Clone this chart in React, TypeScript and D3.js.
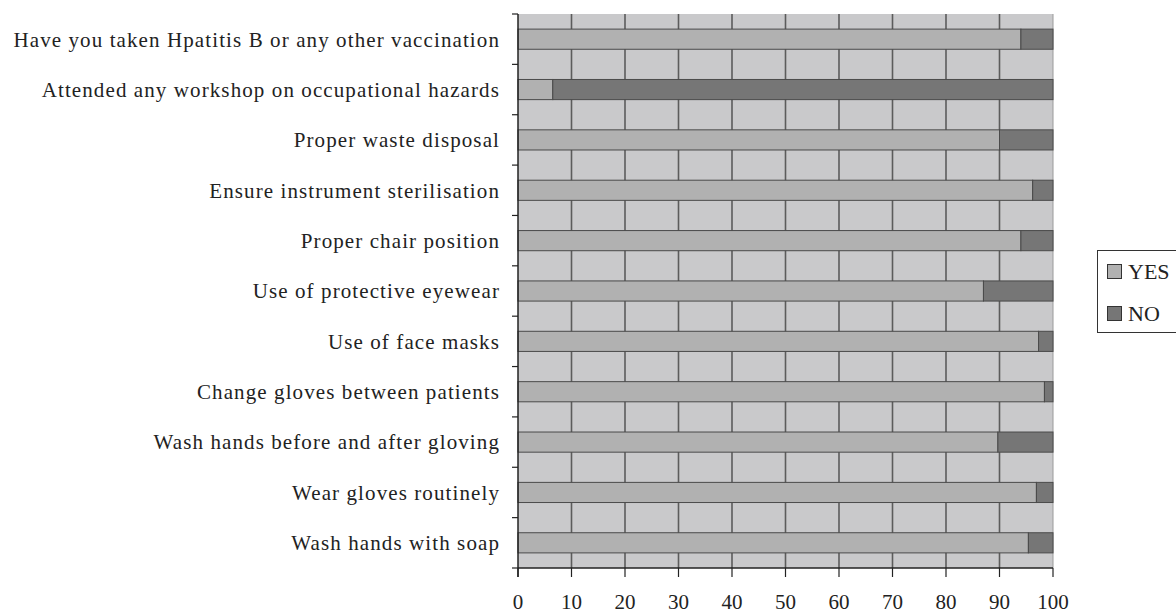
import React from 'react';
import * as d3 from 'd3';

// categories, top to bottom
const categories = [
  'Have you taken Hpatitis B or any other vaccination',
  'Attended any workshop on occupational hazards',
  'Proper waste disposal',
  'Ensure instrument sterilisation',
  'Proper chair position',
  'Use of protective eyewear',
  'Use of face masks',
  'Change gloves between patients',
  'Wash hands before and after gloving',
  'Wear gloves routinely',
  'Wash hands with soap',
];
const yesValues = [94, 6.5, 90, 96.2, 94, 87, 97.3, 98.4, 89.7, 96.9, 95.4];
const noValues = yesValues.map((v) => 100 - v);
const seriesNames = ['YES', 'NO'];
const xTicks = [0, 10, 20, 30, 40, 50, 60, 70, 80, 90, 100];

const W = 1176;
const H = 615;
const margin = { top: 14, right: 123, bottom: 47, left: 518 };
const colors = { YES: '#b1b1b1', NO: '#767676', bg: '#c9c9cb', grid: '#5c5c5c', edge: '#4a4a4a' };
const font = '"Liberation Serif", "Times New Roman", serif';

const App = () => {
  const x = d3.scaleLinear().domain([0, 100]).range([margin.left, W - margin.right]);
  const y = d3
    .scaleBand<string>()
    .domain(categories)
    .range([margin.top, H - margin.bottom])
    .paddingInner(0.6)
    .paddingOuter(0.3);

  const step = y.step();
  const y0 = margin.top;
  const y1 = H - margin.bottom;
  // boundaries between categories, for the left ticks
  const bounds = d3.range(categories.length + 1).map((i) => y0 + i * step);

  const rows = categories.map((c, i) => ({ c, yes: yesValues[i], no: noValues[i] }));

  return (
    <svg width={W} height={H} style={{ position: 'absolute', left: 0, top: 0, background: '#fff' }}>
      {/* plot background */}
      <rect x={x(0)} y={y0} width={x(100) - x(0)} height={y1 - y0} fill={colors.bg} />
      <line x1={x(100)} x2={x(100)} y1={y0} y2={y1} stroke="#9a9a9a" strokeWidth={1} />

      {/* vertical grid */}
      {xTicks.slice(1, -1).map((t) => (
        <line key={t} x1={x(t)} x2={x(t)} y1={y0} y2={y1} stroke={colors.grid} strokeWidth={1.6} />
      ))}

      {/* stacked bars */}
      {rows.map((d) => (
        <g key={d.c}>
          <rect
            x={x(0)}
            y={y(d.c)}
            width={x(d.yes) - x(0)}
            height={y.bandwidth()}
            fill={colors.YES}
            stroke={colors.edge}
            strokeWidth={1}
          />
          <rect
            x={x(d.yes)}
            y={y(d.c)}
            width={x(100) - x(d.yes)}
            height={y.bandwidth()}
            fill={colors.NO}
            stroke={colors.edge}
            strokeWidth={1}
          />
        </g>
      ))}

      {/* left axis */}
      <line x1={x(0)} x2={x(0)} y1={y0} y2={y1 + 9} stroke="#222" strokeWidth={1.5} />
      {bounds.map((b, i) => (
        <line key={i} x1={x(0) - 6} x2={x(0)} y1={b} y2={b} stroke="#222" strokeWidth={1.2} />
      ))}
      {categories.map((c) => (
        <text
          key={c}
          x={500}
          y={(y(c) as number) + y.bandwidth() / 2}
          dy="0.35em"
          textAnchor="end"
          fontFamily={font}
          fontSize={21}
          letterSpacing={1.1}
          fill="#222"
        >
          {c}
        </text>
      ))}

      {/* bottom axis */}
      <line x1={x(0)} x2={x(100)} y1={y1} y2={y1} stroke="#222" strokeWidth={1.5} />
      {xTicks.map((t) => (
        <g key={t}>
          <line x1={x(t)} x2={x(t)} y1={y1} y2={y1 + 9} stroke="#222" strokeWidth={1.2} />
          <text x={x(t)} y={609} textAnchor="middle" fontFamily={font} fontSize={21} fill="#222">
            {t}
          </text>
        </g>
      ))}

      {/* legend */}
      <rect x={1097.5} y={250.5} width={90} height={82} fill="#fff" stroke="#333" strokeWidth={1} />
      {seriesNames.map((s, i) => (
        <g key={s} transform={`translate(1107, ${264 + i * 42})`}>
          <rect x={0.5} y={0.5} width={14} height={14} fill={colors[s as 'YES' | 'NO']} stroke="#333" strokeWidth={1} />
          <text x={21} y={7.5} dy="0.35em" fontFamily={font} fontSize={22} fill="#222">
            {s}
          </text>
        </g>
      ))}
    </svg>
  );
};

export default App;
